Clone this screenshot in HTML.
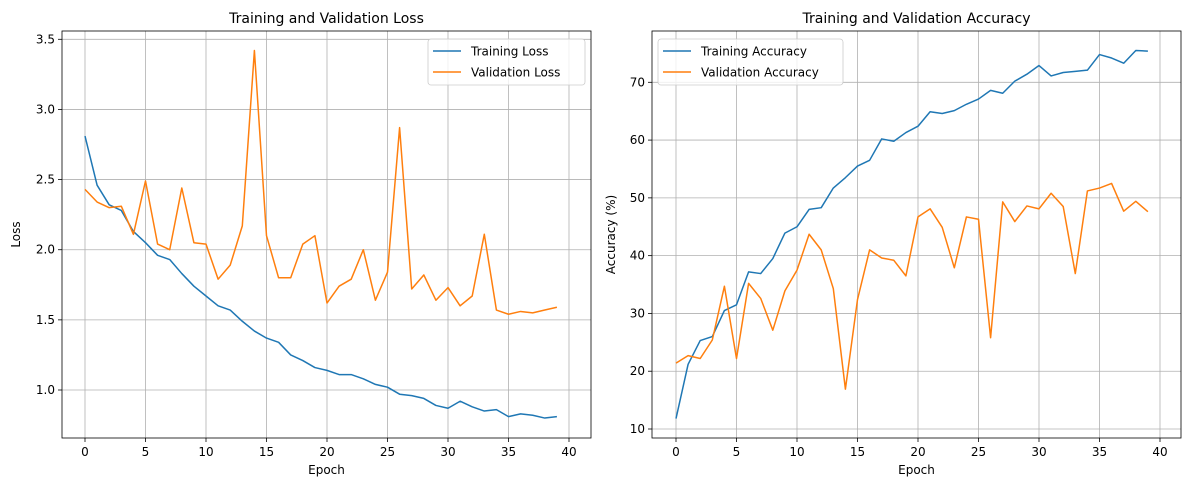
<!DOCTYPE html>
<html><head><meta charset="utf-8"><style>
body{margin:0;background:#fff;font-family:"Liberation Sans","DejaVu Sans",sans-serif}
svg text{font-family:"DejaVu Sans","Liberation Sans",sans-serif;fill:#000}
</style></head><body>
<svg id="c" width="1189" height="490" xmlns="http://www.w3.org/2000/svg"></svg>
<script>
const epochs = Array.from({length:40},(_,i)=>i);
const trainLoss=[2.81,2.46,2.32,2.28,2.13,2.05,1.96,1.93,1.83,1.74,1.67,1.60,1.57,1.49,1.42,1.37,1.34,1.25,1.21,1.16,1.14,1.11,1.11,1.08,1.04,1.02,0.97,0.96,0.94,0.89,0.87,0.92,0.88,0.85,0.86,0.81,0.83,0.82,0.80,0.81];
const valLoss=[2.43,2.34,2.30,2.31,2.11,2.49,2.04,2.00,2.44,2.05,2.04,1.79,1.89,2.17,3.42,2.10,1.80,1.80,2.04,2.10,1.62,1.74,1.79,2.00,1.64,1.84,2.87,1.72,1.82,1.64,1.73,1.60,1.67,2.11,1.57,1.54,1.56,1.55,1.57,1.59];
const trainAcc=[11.8,21.2,25.3,26.0,30.5,31.5,37.2,36.9,39.5,43.9,45.0,48.0,48.3,51.7,53.5,55.5,56.5,60.2,59.8,61.3,62.4,64.9,64.6,65.1,66.2,67.1,68.6,68.1,70.2,71.4,72.9,71.1,71.7,71.9,72.1,74.8,74.2,73.3,75.5,75.4];
const valAcc=[21.4,22.7,22.2,25.4,34.7,22.2,35.2,32.6,27.1,33.9,37.5,43.7,41.0,34.3,16.9,32.4,41.0,39.6,39.2,36.5,46.7,48.1,44.9,37.9,46.7,46.3,25.8,49.3,45.9,48.6,48.1,50.8,48.5,36.9,51.2,51.7,52.5,47.7,49.4,47.6];
const xTicks=[0,5,10,15,20,25,30,35,40];
const lossTicks=[1.0,1.5,2.0,2.5,3.0,3.5];
const accTicks=[10,20,30,40,50,60,70];

const svg=document.getElementById('c');
const NS='http://www.w3.org/2000/svg';
function mk(tag,attrs,parent){const e=document.createElementNS(NS,tag);for(const k in attrs)e.setAttribute(k,attrs[k]);(parent||svg).appendChild(e);return e;}
function txt(s,attrs,parent){const e=mk('text',attrs,parent);e.textContent=s;return e;}

function panel(o){
  const g=mk('g',{});
  
  
  const X=v=>o.x0+(v-0)*(o.x40-o.x0)/40;
  const Y=v=>o.yA+(v-o.vA)*(o.yB-o.yA)/(o.vB-o.vA);
  // grid
  xTicks.forEach(t=>{
    const l=mk('line',{x1:X(t),x2:X(t),y1:o.top,y2:o.bot,stroke:'#b0b0b0','stroke-width':0.8},g);
    
    mk('line',{x1:X(t),x2:X(t),y1:o.bot,y2:o.bot+4,stroke:'#000','stroke-width':0.8},g);
    const tx=txt(String(t),{x:X(t),y:o.bot+18,'font-size':12,'text-anchor':'middle'},g);
    
  });
  o.yTicks.forEach(t=>{
    const l=mk('line',{x1:o.left,x2:o.right,y1:Y(t),y2:Y(t),stroke:'#b0b0b0','stroke-width':0.8},g);
    
    mk('line',{x1:o.left-4,x2:o.left,y1:Y(t),y2:Y(t),stroke:'#000','stroke-width':0.8},g);
    const tx=txt(o.fmt(t),{x:o.left-7,y:Y(t)+4,'font-size':12,'text-anchor':'end'},g);
    
  });
  o.series.forEach(s=>{
    const p=mk('polyline',{points:s.v.map((v,i)=>X(epochs[i])+','+Y(v)).join(' '),fill:'none',stroke:s.c,'stroke-width':1.5,'stroke-linejoin':'round'},g);
    
  });
  const fr=mk('rect',{x:o.left,y:o.top,width:o.right-o.left,height:o.bot-o.top,fill:'none',stroke:'#000','stroke-width':0.8},g);
  
  const t=txt(o.title,{x:(o.left+o.right)/2,y:o.top-8,'font-size':14,'text-anchor':'middle'},g);
  
  const xl=txt('Epoch',{x:(o.left+o.right)/2,y:o.bot+36,'font-size':12,'text-anchor':'middle'},g);
  
  const cy=(o.top+o.bot)/2;
  const yl=txt(o.ylabel,{x:o.ylx,y:cy,'font-size':12,'text-anchor':'middle',transform:'rotate(-90 '+o.ylx+' '+cy+')'},g);
  
  // legend
  const lg=mk('g',{},g);
  
  mk('rect',{x:o.lx,y:o.ly,width:o.lw,height:46,rx:3,fill:'#fff','fill-opacity':0.8,stroke:'#ccc','stroke-width':0.8},lg);
  o.series.forEach((s,i)=>{
    const yy=o.ly+12+i*21;
    const e=mk('g',{},lg);
    
    mk('line',{x1:o.lx+5,x2:o.lx+33,y1:yy,y2:yy,stroke:s.c,'stroke-width':1.5},e);
    txt(s.label,{x:o.lx+43,y:yy+4.5,'font-size':12},e);
  });
}
panel({name:'loss-chart',left:62,right:591,top:31,bot:438,x0:85,x40:569,yA:39.3,vA:3.5,yB:390,vB:1.0,
  yTicks:lossTicks,fmt:v=>v.toFixed(1),title:'Training and Validation Loss',ylabel:'Loss',ylx:20,
  lx:428,ly:39,lw:157,
  series:[{n:'training-loss-line',v:trainLoss,c:'#1f77b4',label:'Training Loss'},{n:'validation-loss-line',v:valLoss,c:'#ff7f0e',label:'Validation Loss'}]});
panel({name:'accuracy-chart',left:652,right:1181,top:31,bot:438,x0:676,x40:1160,yA:429,vA:10,yB:82.3,vB:70,
  yTicks:accTicks,fmt:v=>String(v),title:'Training and Validation Accuracy',ylabel:'Accuracy (%)',ylx:615,
  lx:658,ly:39,lw:185,
  series:[{n:'training-accuracy-line',v:trainAcc,c:'#1f77b4',label:'Training Accuracy'},{n:'validation-accuracy-line',v:valAcc,c:'#ff7f0e',label:'Validation Accuracy'}]});
</script>
</body></html>
